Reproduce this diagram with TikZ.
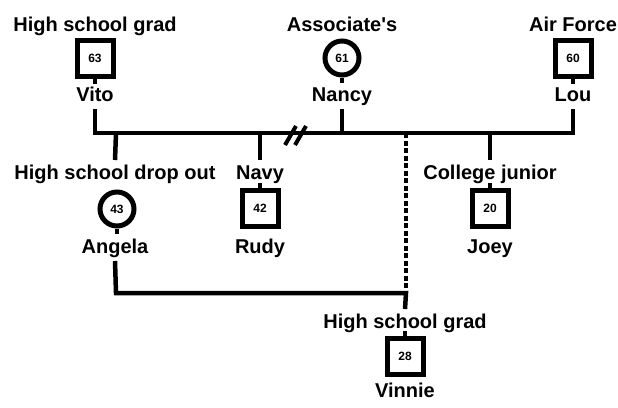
\documentclass[tikz,border=0pt]{standalone}
\usepackage{fontspec}
\setmainfont{Liberation Sans}
\tikzset{
  lbl/.style={inner sep=0pt, outer sep=4pt, text height=15pt, text depth=4pt,
    font=\fontsize{20}{20}\selectfont\bfseries},
  male/.style={draw, line width=5pt, rectangle, minimum size=36pt, inner sep=0pt,
    font=\fontsize{12}{12}\selectfont\bfseries},
  female/.style={draw, line width=5pt, circle, minimum size=34pt, inner sep=0pt,
    font=\fontsize{12}{12}\selectfont\bfseries},
  famline/.style={line width=4.5pt},
  tick/.style={line width=3.5pt}
}
\begin{document}
\begin{tikzpicture}[x=1pt,y=-1pt]
	\useasboundingbox (0,0) rectangle (618,407);
	\node[lbl] (vitoed) at (95,25.5) {High school grad};
	\node[male] (vitobox) at (95,58) {63};
	\node[lbl] (vito) at (95,95.5) {Vito};
	\node[lbl] (nancyed) at (342,25.5) {Associate\textquotesingle s};
	\node[female] (nancybox) at (342,58) {61};
	\node[lbl] (nancy) at (342,95.5) {Nancy};
	\node[lbl] (loued) at (573,25.5) {Air Force};
	\node[male] (loubox) at (573,58) {60};
	\node[lbl] (lou) at (573,95.5) {Lou};
	\node[lbl] (angelaed) at (115,173.5) {High school drop out};
	\node[female] (angelabox) at (117,209) {43};
	\node[lbl] (angela) at (115,247.5) {Angela};
	\node[lbl] (rudyed) at (260,173.5) {Navy};
	\node[male] (rudybox) at (260,208) {42};
	\node[lbl] (rudy) at (260,247.5) {Rudy};
	\node[lbl] (joeyed) at (490,173.5) {College junior};
	\node[male] (joeybox) at (490,208) {20};
	\node[lbl] (joey) at (490,247.5) {Joey};
	\node[lbl] (vinnieed) at (405,322.5) {High school grad};
	\node[male] (vinniebox) at (405,356) {28};
	\node[lbl] (vinnie) at (405,391.5) {Vinnie};
	\coordinate (vitoj) at (95,133);
	\coordinate (nancyj) at (342,133);
	\coordinate (louj) at (573,133);
	\coordinate (angelaj) at (116,133);
	\coordinate (rudyj) at (260,133);
	\coordinate (joeyj) at (490,133);
	\coordinate (vinniej) at (406,133);
	\coordinate (angelab) at (116,293);
	\coordinate (vinnieb) at (406,293);
	\draw[famline] (vito.south) -- (vitoj) -- (louj) -- (lou.south);
	\draw[famline] (nancy.south) -- (nancyj);
	\draw[famline] (angelaj) -- (angelaed.north);
	\draw[famline] (rudyj) -- (rudyed.north);
	\draw[famline] (joeyj) -- (joeyed.north);
	\draw[line width=4pt, dash pattern=on 5pt off 2.5pt] (vinniej) -- (vinnieb);
	\draw[famline] (angela.south) -- (angelab) -- (vinnieb) -- (vinnieed.north);
	\draw[line width=4pt] (285,145) -- (296,126);
	\draw[line width=4pt] (295,145) -- (306,126);
	\draw[tick] (vitobox.south) -- ++(0,5);
	\draw[tick] (nancybox.south) -- ++(0,5);
	\draw[tick] (loubox.south) -- ++(0,5);
	\draw[tick] (angelabox.south) -- ++(0,5);
	\draw[tick] (rudybox.north) -- ++(0,-5);
	\draw[tick] (joeybox.north) -- ++(0,-5);
	\draw[tick] (vinniebox.north) -- ++(0,-5);
\end{tikzpicture}
\end{document}
